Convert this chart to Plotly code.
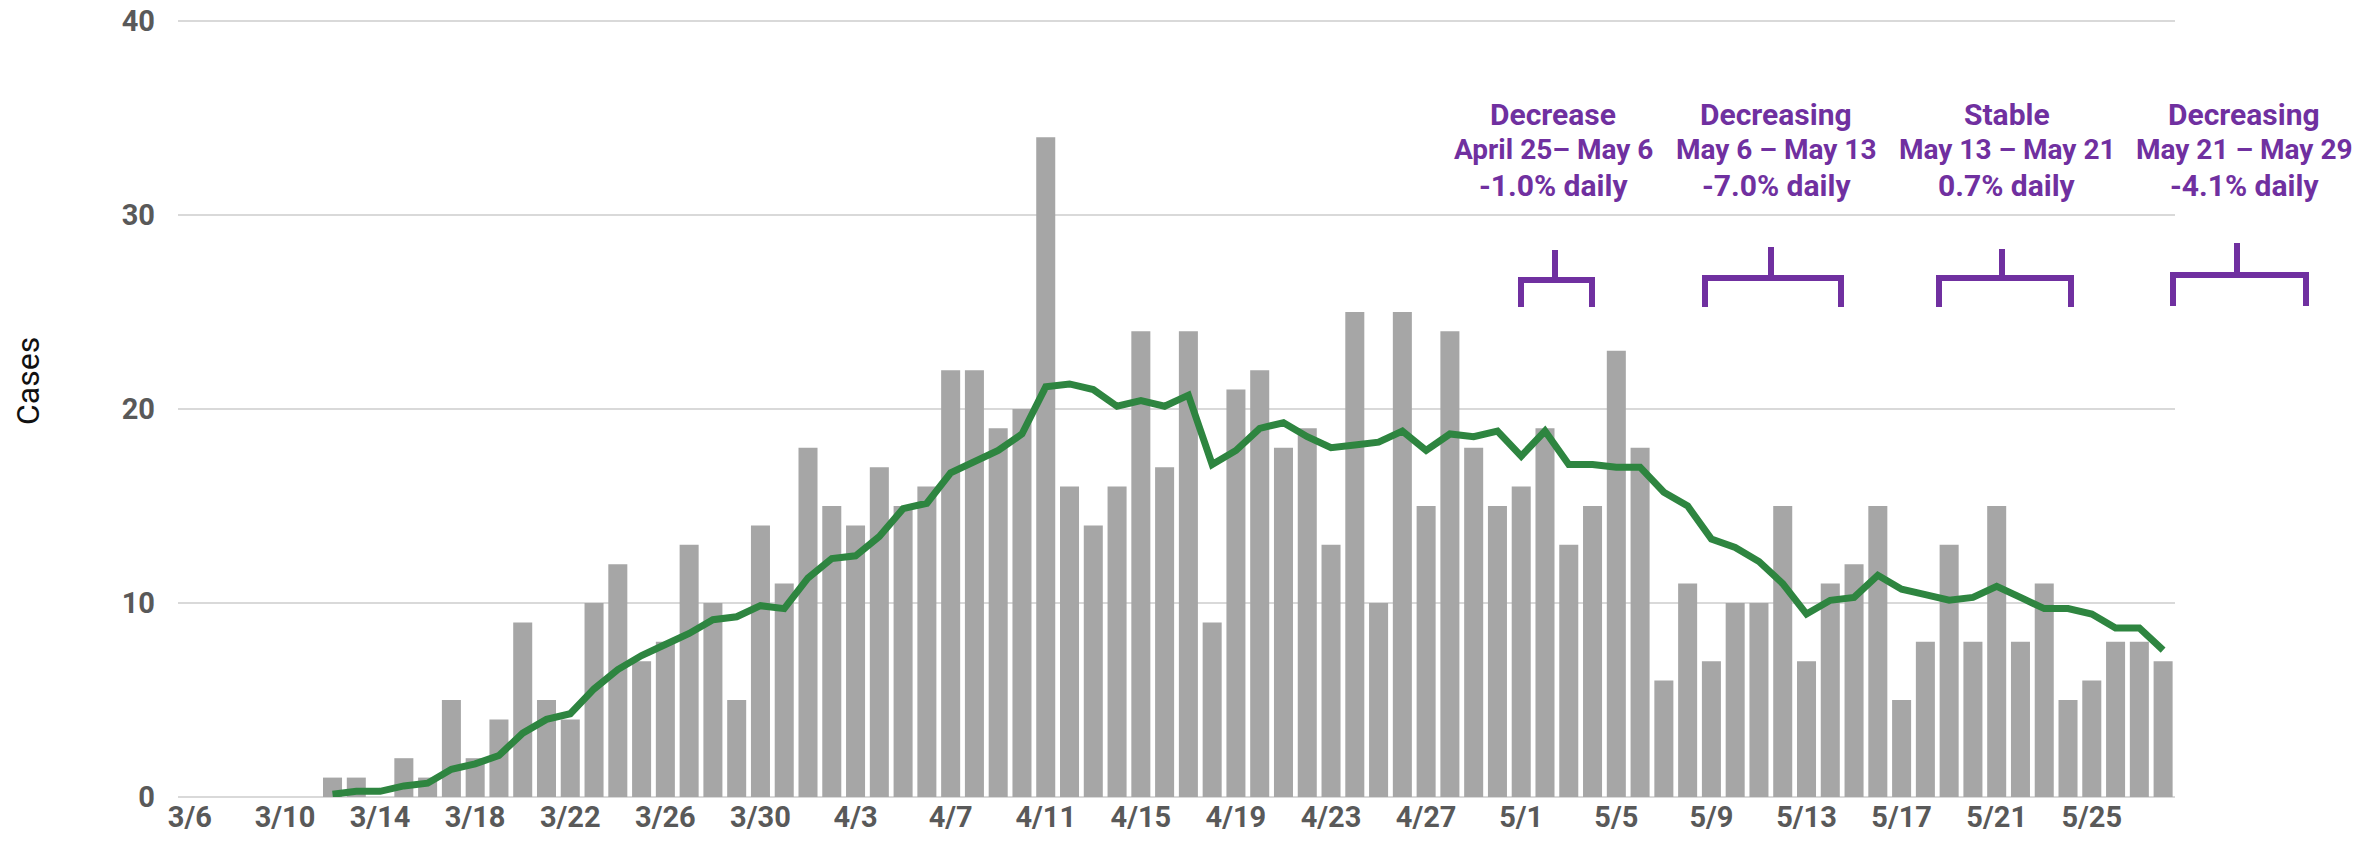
import pandas as pd
import plotly.graph_objects as go

# ---- data ----
dates = [f"{d.month}/{d.day}" for d in pd.date_range("2020-03-06", "2020-05-28", freq="D")]

daily_cases = [
    0, 0, 0, 0, 0, 0,                                   # 3/6 - 3/11
    1, 1, 0, 2, 1, 5, 2, 4, 9, 5, 4, 10, 12, 7, 8, 13,  # 3/12 - 3/27
    10, 5, 14, 11,                                      # 3/28 - 3/31
    18, 15, 14, 17, 15, 16, 22, 22, 19, 20, 34, 16, 14, 16, 24,  # 4/1 - 4/15
    17, 24, 9, 21, 22, 18, 19, 13, 25, 10, 25, 15, 24, 18, 15,   # 4/16 - 4/30
    16, 19, 13, 15, 23, 18, 6, 11, 7, 10, 10, 15, 7, 11, 12,     # 5/1 - 5/15
    15, 5, 8, 13, 8, 15, 8, 11, 5, 6, 8, 8, 7,                   # 5/16 - 5/28
]

avg_dates = dates[6:]   # 3/12 - 5/28
avg_cases = [
    0.14, 0.29, 0.29, 0.57, 0.71, 1.43, 1.71, 2.14, 3.29, 4.00, 4.29, 5.57, 6.57, 7.29,
    7.86, 8.43, 9.14, 9.29, 9.86, 9.71,
    11.29, 12.29, 12.43, 13.43, 14.86, 15.14, 16.71, 17.29, 17.86, 18.71, 21.14, 21.29,
    21.00, 20.14, 20.43, 20.14, 20.71, 17.14, 17.86, 19.00, 19.29, 18.57, 18.00, 18.14,
    18.29, 18.86, 17.86, 18.71, 18.57, 18.86,
    17.57, 18.86, 17.14, 17.14, 17.00, 17.00, 15.71, 15.00, 13.29, 12.86, 12.14, 11.00,
    9.43, 10.14, 10.29, 11.43, 10.71, 10.43, 10.14, 10.29, 10.86, 10.29, 9.71, 9.71,
    9.43, 8.71, 8.71, 7.57,
]

tick_labels = dates[::4]

note_lines = [
    ["Decrease", "April 25– May 6", "-1.0% daily"],
    ["Decreasing", "May 6 – May 13", "-7.0% daily"],
    ["Stable", "May 13 – May 21", "0.7% daily"],
    ["Decreasing", "May 21 – May 29", "-4.1% daily"],
]

# ---- layout geometry ----
# the page body margin is removed (post_script), so figure pixels == screen pixels
W, H = 2361, 846
Y_TOP = 40.1
# plot area in screen pixels: x from 178 to 2175, y=0 at 797, y=40 at 21
PX_PER_UNIT = (797 - 21) / 40.0
ML = 178
MR = W - 2175
MB = H - 797
MT = round(21 - (Y_TOP - 40) * PX_PER_UNIT)
PW = W - ML - MR
PH = H - MT - MB


def xp(sx):
    """screen x pixel -> paper x"""
    return (sx - ML) / PW


def yp(sy):
    """screen y pixel -> paper y"""
    return (H - MB - sy) / PH


PURPLE = "#7030A0"
GREY_TXT = "#595959"
FONT = "Roboto, Arial, sans-serif"

fig = go.Figure()
fig.add_trace(go.Bar(x=dates, y=daily_cases, marker=dict(color="#A6A6A6", line=dict(width=0)),
                     name="Cases", showlegend=False))
fig.add_trace(go.Scatter(x=avg_dates, y=avg_cases, mode="lines",
                         line=dict(color="#2E8540", width=7), name="7-day average",
                         showlegend=False))

# brackets (screen pixels): left, right, mid, horizontal y, bottom y, top y
brackets = [
    (1521, 1592, 1555, 280, 307, 250),
    (1705, 1841, 1771, 278, 307, 247),
    (1939, 2071, 2002, 278, 307, 249),
    (2173, 2306, 2237, 275, 306, 243),
]
shapes = []
for l, r, m, hy, by, ty in brackets:
    path = (f"M {xp(l)},{yp(by)} L {xp(l)},{yp(hy)} L {xp(r)},{yp(hy)} L {xp(r)},{yp(by)} "
            f"M {xp(m)},{yp(hy)} L {xp(m)},{yp(ty)}")
    shapes.append(dict(type="path", xref="paper", yref="paper", path=path,
                       line=dict(color=PURPLE, width=6)))

text_x = [1553, 1776, 2007, 2244]
line_y = [114, 149, 185]
line_size = [30, 28, 30]
annotations = []
for tx, lines in zip(text_x, note_lines):
    for ty, fs, t in zip(line_y, line_size, lines):
        annotations.append(dict(x=xp(tx), y=yp(ty), xref="paper", yref="paper", text=t,
                                showarrow=False, xanchor="center", yanchor="middle",
                                align="center", borderpad=0,
                                font=dict(family=FONT, size=fs, color=PURPLE, weight="bold")))
annotations.append(dict(x=xp(28), y=yp(381), xref="paper", yref="paper", text="Cases",
                        showarrow=False, textangle=-90, xanchor="center", yanchor="middle",
                        font=dict(family=FONT, size=32, color="#111111")))

fig.update_layout(
    width=W, height=H,
    margin=dict(l=ML, r=MR, t=MT, b=MB, autoexpand=False),
    paper_bgcolor="white", plot_bgcolor="white",
    bargap=0.2,
    shapes=shapes,
    annotations=annotations,
    xaxis=dict(type="category", range=[-0.5, len(dates) - 0.5], tickmode="array",
               tickvals=tick_labels, ticktext=tick_labels, showgrid=False, showline=False,
               automargin=False, ticks="",
               tickfont=dict(family=FONT, size=29, color=GREY_TXT, weight="bold")),
    yaxis=dict(range=[0, Y_TOP], tickvals=[0, 10, 20, 30, 40], showgrid=True,
               gridcolor="#D9D9D9", gridwidth=2, zeroline=True, zerolinecolor="#D9D9D9",
               zerolinewidth=2, showline=False, ticks="", ticklabelstandoff=22,
               ticklabeloverflow="allow", automargin=False,
               tickfont=dict(family=FONT, size=29, color=GREY_TXT, weight="bold")),
)

fig.write_html("out.html", config={"displayModeBar": False},
               post_script="document.body.style.margin='0';document.body.style.overflow='hidden';")
